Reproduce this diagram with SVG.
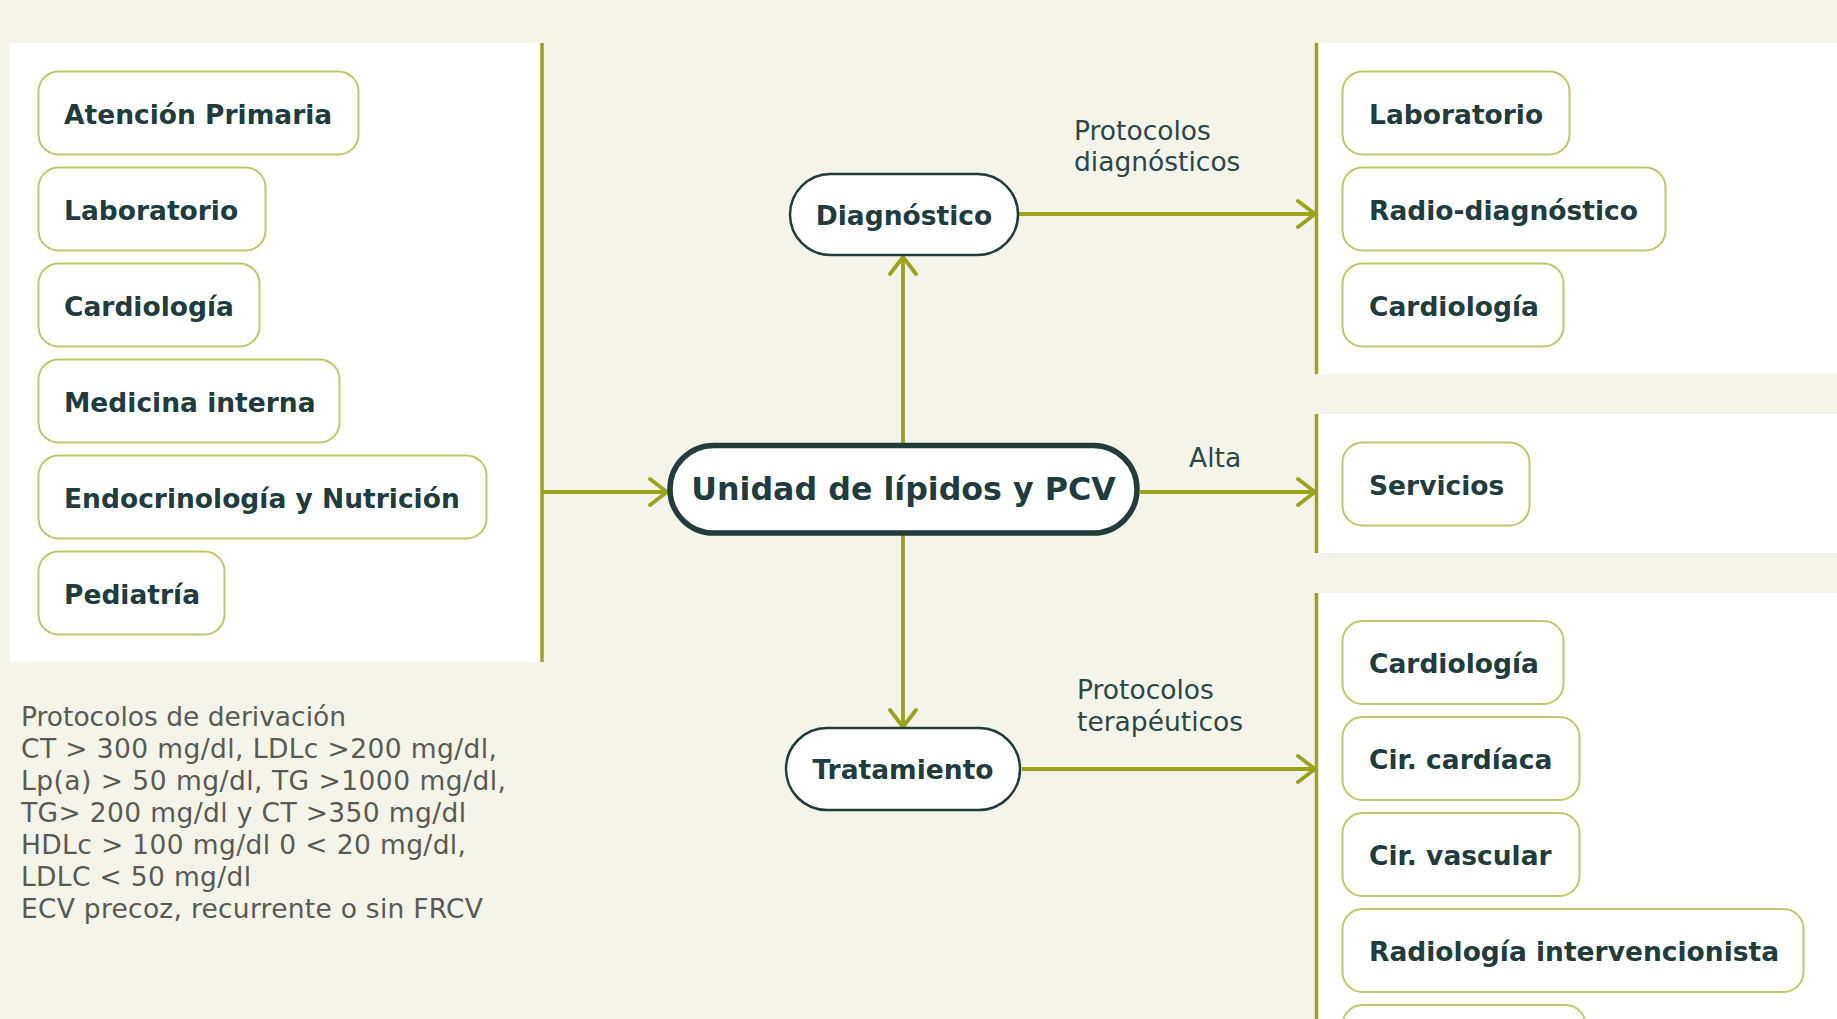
<svg xmlns="http://www.w3.org/2000/svg" width="1837" height="1019" viewBox="0 0 1837 1019">
<style>
.bg{fill:#f4f4ea}
.panel{fill:#ffffff}
.spine{stroke:#9ba21c;stroke-width:3.5;fill:none}
.conn{stroke:#9ba21c;stroke-width:3.8;fill:none}
.box{fill:#ffffff;stroke:#c3c56f;stroke-width:2}
.pill{fill:#ffffff;stroke:#243b3c;stroke-width:2.5}
.main{fill:#ffffff;stroke:#243b3c;stroke-width:5.5}
.bt{font-family:"DejaVu Sans",Verdana,sans-serif;font-weight:bold;font-size:26.5px;fill:#223c3d}
.mt{font-family:"DejaVu Sans",Verdana,sans-serif;font-weight:bold;font-size:31.7px;fill:#223c3d;text-anchor:middle}
.ct{text-anchor:middle}
.lbl{font-family:"DejaVu Sans",Verdana,sans-serif;font-size:26.5px;fill:#2d4646}
.note{font-family:"DejaVu Sans",Verdana,sans-serif;font-size:26.5px;fill:#5a5a55}
</style>
<defs>
<marker id="arr" markerUnits="userSpaceOnUse" markerWidth="22" markerHeight="32" viewBox="0 0 22 32" refX="19" refY="16" orient="auto">
<path d="M2,3 L19,16 L2,29" fill="none" stroke="#9ba21c" stroke-width="3.8" stroke-linecap="round" stroke-linejoin="round"/>
</marker>
</defs>
<rect class="bg" x="0" y="0" width="1837" height="1019"/>
<g id="panels">
<rect class="panel" x="9.5" y="43" width="532.5" height="619"/>
<rect class="panel" x="1316" y="43" width="521" height="331"/>
<rect class="panel" x="1316" y="414" width="521" height="139"/>
<rect class="panel" x="1316" y="593" width="521" height="426"/>
<line class="spine" x1="542" y1="43" x2="542" y2="662"/>
<line class="spine" x1="1316.5" y1="43" x2="1316.5" y2="374"/>
<line class="spine" x1="1316.5" y1="414" x2="1316.5" y2="553"/>
<line class="spine" x1="1316.5" y1="593" x2="1316.5" y2="1019"/>
</g>
<g id="connectors">
<path class="conn" d="M542,492 H667" marker-end="url(#arr)"/>
<path class="conn" d="M903,443 V257" marker-end="url(#arr)"/>
<path class="conn" d="M903,535 V727" marker-end="url(#arr)"/>
<path class="conn" d="M1019,214 H1315" marker-end="url(#arr)"/>
<path class="conn" d="M1140,492 H1315" marker-end="url(#arr)"/>
<path class="conn" d="M1022,769 H1315" marker-end="url(#arr)"/>
<text class="lbl" x="1074" y="140">Protocolos</text>
<text class="lbl" x="1074" y="171">diagnósticos</text>
<text class="lbl" x="1189" y="467">Alta</text>
<text class="lbl" x="1077" y="699">Protocolos</text>
<text class="lbl" x="1077" y="731">terapéuticos</text>
</g>
<g id="left-atencion"><rect class="box" x="38.5" y="71.5" width="320" height="83" rx="20"/><text class="bt" x="64" y="124">Atención Primaria</text></g>
<g id="left-laboratorio"><rect class="box" x="38.5" y="167.5" width="227" height="83" rx="20"/><text class="bt" x="64" y="220">Laboratorio</text></g>
<g id="left-cardiologia"><rect class="box" x="38.5" y="263.5" width="221" height="83" rx="20"/><text class="bt" x="64" y="316">Cardiología</text></g>
<g id="left-medicina"><rect class="box" x="38.5" y="359.5" width="301" height="83" rx="20"/><text class="bt" x="64" y="412">Medicina interna</text></g>
<g id="left-endocrino"><rect class="box" x="38.5" y="455.5" width="448" height="83" rx="20"/><text class="bt" x="64" y="508">Endocrinología y Nutrición</text></g>
<g id="left-pediatria"><rect class="box" x="38.5" y="551.5" width="186" height="83" rx="20"/><text class="bt" x="64" y="604">Pediatría</text></g>
<g id="note">
<text class="note" x="21" y="726" textLength="325">Protocolos de derivación</text>
<text class="note" x="21" y="758" textLength="476">CT &gt; 300 mg/dl, LDLc &gt;200 mg/dl,</text>
<text class="note" x="21" y="790" textLength="485">Lp(a) &gt; 50 mg/dl, TG &gt;1000 mg/dl,</text>
<text class="note" x="21" y="822" textLength="445">TG&gt; 200 mg/dl y CT &gt;350 mg/dl</text>
<text class="note" x="21" y="854" textLength="445">HDLc &gt; 100 mg/dl 0 &lt; 20 mg/dl,</text>
<text class="note" x="21" y="886" textLength="230">LDLC &lt; 50 mg/dl</text>
<text class="note" x="21" y="918" textLength="462">ECV precoz, recurrente o sin FRCV</text>
</g>
<g id="unidad"><rect class="main" x="670" y="445.5" width="467" height="87.5" rx="43.75"/><text class="mt" x="903.5" y="500">Unidad de lípidos y PCV</text></g>
<g id="diagnostico"><rect class="pill" x="790" y="174" width="228" height="81" rx="40.5"/><text class="bt ct" x="904" y="225">Diagnóstico</text></g>
<g id="tratamiento"><rect class="pill" x="786" y="728" width="234" height="82" rx="41"/><text class="bt ct" x="903" y="779">Tratamiento</text></g>
<g id="right-laboratorio"><rect class="box" x="1342.5" y="71.5" width="227" height="83" rx="20"/><text class="bt" x="1369" y="124">Laboratorio</text></g>
<g id="right-radiodiag"><rect class="box" x="1342.5" y="167.5" width="323" height="83" rx="20"/><text class="bt" x="1369" y="220">Radio-diagnóstico</text></g>
<g id="right-cardiologia1"><rect class="box" x="1342.5" y="263.5" width="221" height="83" rx="20"/><text class="bt" x="1369" y="316">Cardiología</text></g>
<g id="right-servicios"><rect class="box" x="1342.5" y="442.5" width="187" height="83" rx="20"/><text class="bt" x="1369" y="495">Servicios</text></g>
<g id="right-cardiologia2"><rect class="box" x="1342.5" y="621" width="221" height="83" rx="20"/><text class="bt" x="1369" y="673">Cardiología</text></g>
<g id="right-circardiaca"><rect class="box" x="1342.5" y="717" width="237" height="83" rx="20"/><text class="bt" x="1369" y="769">Cir. cardíaca</text></g>
<g id="right-cirvascular"><rect class="box" x="1342.5" y="813" width="237" height="83" rx="20"/><text class="bt" x="1369" y="865">Cir. vascular</text></g>
<g id="right-radiologia"><rect class="box" x="1342.5" y="909" width="461" height="83" rx="20"/><text class="bt" x="1369" y="961">Radiología intervencionista</text></g>
<g id="right-partial"><rect class="box" x="1342.5" y="1005" width="243" height="83" rx="20"/></g>
</svg>
